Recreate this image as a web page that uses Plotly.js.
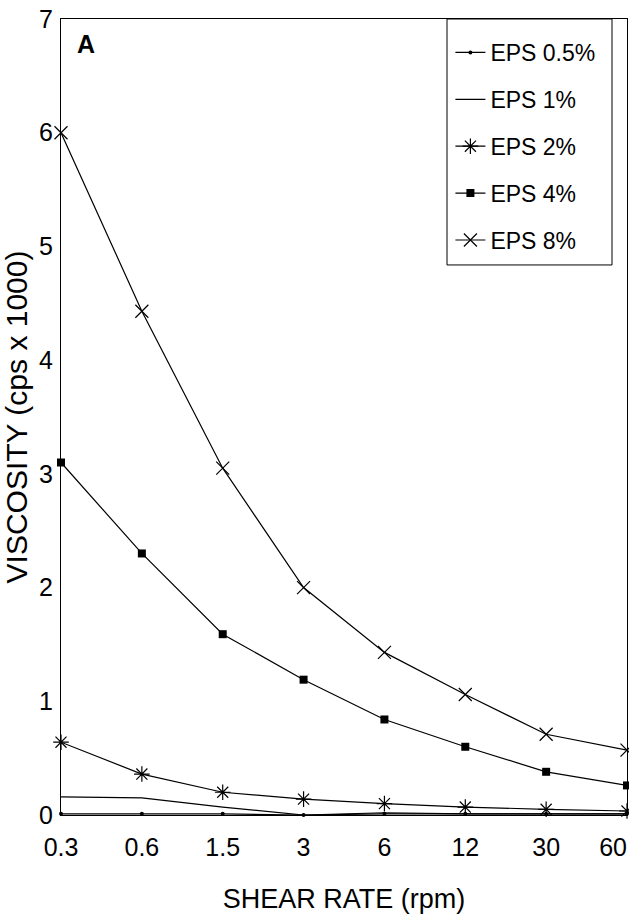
<!DOCTYPE html>
<html><head><meta charset="utf-8">
<script src="https://cdn.plot.ly/plotly-3.0.1.min.js"></script>
<style>html,body{margin:0;padding:0;background:#fff}#chart{width:629px;height:914px}</style>
</head><body><div id="chart"></div>
<script>
const shearRates = ["0.3","0.6","1.5","3","6","12","30","60"];
const eps05 = [0.01,0.01,0.01,0.0,0.01,0.01,0.01,0.01];
const eps1  = [0.16,0.15,0.07,0.0,0.02,0.01,0.01,0.01];
const eps2  = [0.64,0.36,0.20,0.14,0.10,0.07,0.05,0.035];
const eps4  = [3.10,2.30,1.59,1.19,0.84,0.60,0.38,0.26];
const eps8  = [6.00,4.43,3.05,2.00,1.43,1.06,0.71,0.57];
const seriesNames = ["EPS 0.5%","EPS 1%","EPS 2%","EPS 4%","EPS 8%"];

const line = {color:'#000', width:1.2};
const traces = [
  {x:shearRates, y:eps05, name:seriesNames[0], mode:'lines+markers', line:line, marker:{symbol:'circle', size:4, color:'#000'}},
  {x:shearRates, y:eps1, name:seriesNames[1], mode:'lines', line:line},
  {x:shearRates, y:eps2, name:seriesNames[2], mode:'lines+markers', line:line, marker:{symbol:'asterisk-open', size:13, color:'#000', line:{color:'#000', width:1.2}}},
  {x:shearRates, y:eps4, name:seriesNames[3], mode:'lines+markers', line:line, marker:{symbol:'square', size:8, color:'#000'}},
  {x:shearRates, y:eps8, name:seriesNames[4], mode:'lines+markers', line:line, marker:{symbol:'x-thin-open', size:13, color:'#000', line:{color:'#000', width:1.2}}}
].map((t,i)=>Object.assign(t,{type:'scatter', legendgroup:'g'+i, cliponaxis:false}));

// last tick label sits flush with the right edge in the original
const tickText = shearRates.map((s,i)=> i===shearRates.length-1 ? s+'\u2007\u2007' : s);

const fam = '"Liberation Sans", Arial, Helvetica, sans-serif';
const layout = {
  width:629, height:914,
  margin:{l:61, r:2, t:19, b:99},
  paper_bgcolor:'#fff', plot_bgcolor:'#fff',
  font:{family:fam, color:'#000'},
  showlegend:true,
  legend:{x:0.688, xanchor:'left', y:0.985, yanchor:'top', borderwidth:0,
          bgcolor:'rgba(0,0,0,0)', font:{family:fam, size:23, color:'#000'},
          traceorder:'grouped', tracegroupgap:14, itemwidth:30},
  xaxis:{type:'category', range:[0,7], showgrid:false, zeroline:false,
         showline:true, linecolor:'#000', linewidth:1, mirror:true,
         tickmode:'array', tickvals:shearRates, ticktext:tickText,
         ticks:'', tickfont:{size:25, family:fam}, ticklabelstandoff:10,
         title:{text:'SHEAR RATE (rpm)', font:{size:27, family:fam}, standoff:29}},
  yaxis:{range:[0,7], dtick:1, showgrid:false, zeroline:false,
         showline:true, linecolor:'#000', linewidth:1, mirror:true,
         ticks:'', tickfont:{size:25, family:fam}, ticklabelstandoff:2,
         title:{text:'VISCOSITY (cps x 1000)', font:{size:30, family:fam}, standoff:3}},
  shapes:[{type:'rect', xref:'paper', yref:'paper', x0:0.682, x1:0.9735, y0:0.691, y1:1,
           line:{color:'#000', width:1}, fillcolor:'rgba(0,0,0,0)', layer:'above'}],
  annotations:[{text:'<b>A</b>', xref:'paper', yref:'paper', x:0.044, y:0.989, xanchor:'center', yanchor:'top',
                showarrow:false, font:{size:25, family:fam, color:'#000'}}]
};
Plotly.newPlot('chart', traces, layout, {displayModeBar:false, staticPlot:true});
</script></body></html>
